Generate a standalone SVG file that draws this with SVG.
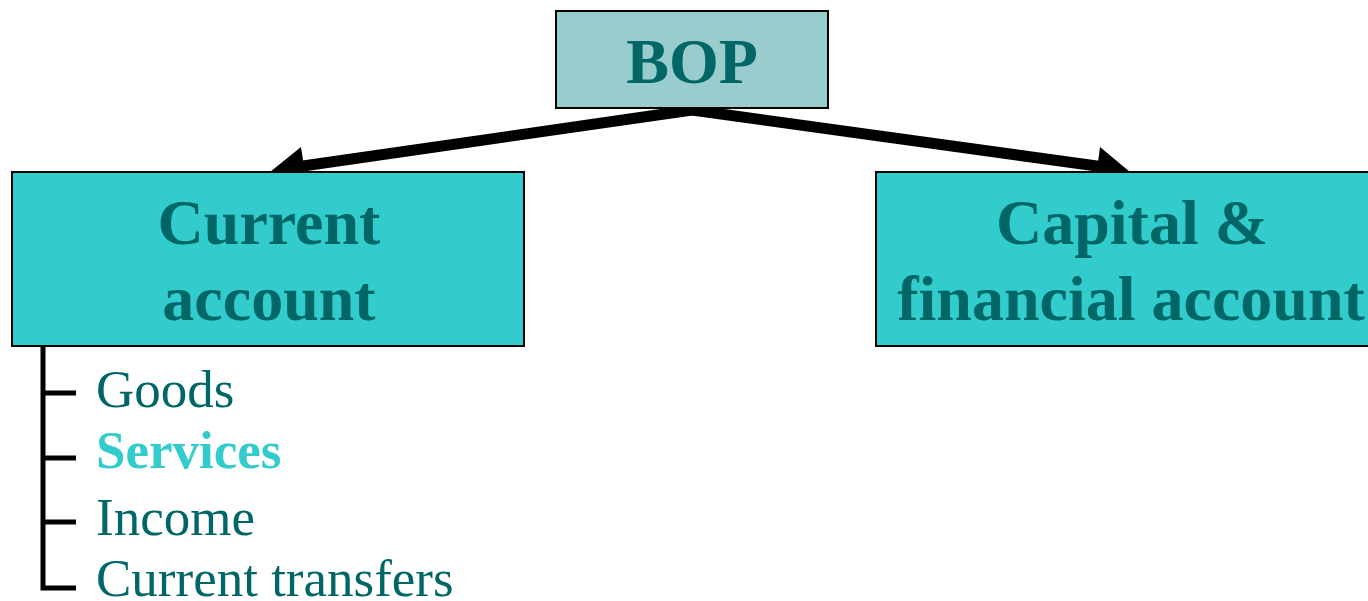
<svg xmlns="http://www.w3.org/2000/svg" width="1368" height="601" viewBox="0 0 1368 601">
  <style>
    .box { stroke: #000; stroke-width: 2; }
    .head { font-family: "Liberation Serif", "Times New Roman", serif; font-weight: bold; fill: #006666; text-anchor: middle; font-size: 64px; }
    .item { font-family: "Liberation Serif", "Times New Roman", serif; font-size: 53px; fill: #006666; }
    .item.hl { font-weight: bold; fill: #33CCCC; }
    .conn { stroke: #000; stroke-width: 11; fill: none; }
    .bracket { stroke: #000; stroke-width: 5; fill: none; }
  </style>
  <rect width="1368" height="601" fill="#fff"/>

  <g id="connectors">
    <line class="conn" x1="692" y1="110" x2="296" y2="167"/>
    <polygon points="270,172 301,147 307,186" fill="#000"/>
    <line class="conn" x1="692" y1="110" x2="1104" y2="167"/>
    <polygon points="1130,172 1100,147 1095,186" fill="#000"/>
  </g>

  <g id="bop">
    <rect class="box" x="556" y="11" width="272" height="97" fill="#99CCCC"/>
    <text class="head" x="692" y="83" font-size="63">BOP</text>
  </g>

  <g id="current-account">
    <rect class="box" x="12" y="172" width="512" height="174" fill="#33CCCC"/>
    <text class="head" x="269" y="244">Current</text>
    <text class="head" x="269" y="320">account</text>
  </g>

  <g id="capital-account">
    <rect class="box" x="876" y="172" width="520" height="174" fill="#33CCCC"/>
    <text class="head" x="1132" y="244">Capital &amp;</text>
    <text class="head" x="1131" y="320">financial account</text>
  </g>

  <g id="current-items">
    <path class="bracket" d="M43,346 V588 H76 M43,393 H76 M43,458 H76 M43,522 H76"/>
    <text class="item" x="96" y="407">Goods</text>
    <text class="item hl" x="96" y="468">Services</text>
    <text class="item" x="96" y="535">Income</text>
    <text class="item" x="96" y="596">Current transfers</text>
  </g>
</svg>
